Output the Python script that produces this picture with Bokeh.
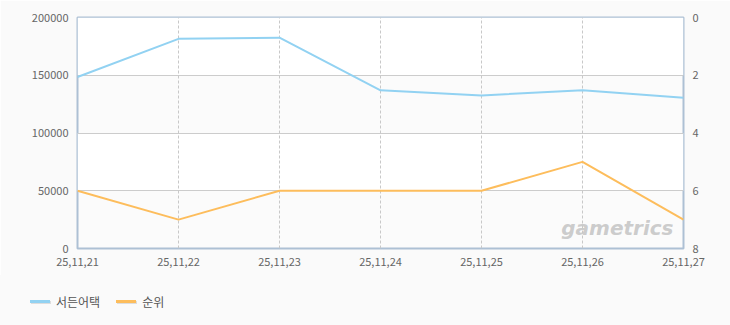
from bokeh.plotting import figure
from bokeh.models import (ColumnDataSource, Range1d, LinearAxis, FixedTicker, Label, Div)
from bokeh.layouts import column
from bokeh.embed import file_html
from bokeh.resources import INLINE

dates = ["25,11,21", "25,11,22", "25,11,23", "25,11,24", "25,11,25", "25,11,26", "25,11,27"]
users = [148500, 181500, 182500, 137000, 132500, 137000, 130500]
rank = [6, 7, 6, 6, 6, 5, 7]
left_ticks = [0, 50000, 100000, 150000, 200000]
right_ticks = [0, 2, 4, 6, 8]
series_names = ["서든어택", "순위"]
series_colors = ["#92d2f2", "#fdbd5c"]

xs = list(range(len(dates)))
src = ColumnDataSource(dict(x=xs, users=users, rank=rank))

FONT = "Noto Sans CJK KR"
p = figure(width=730, height=275, output_backend="svg", toolbar_location=None,
           x_range=Range1d(0, len(dates) - 1), y_range=Range1d(0, 200000),
           min_border_left=77, min_border_right=47, min_border_top=17, min_border_bottom=27,
           background_fill_color="#fbfbfb", border_fill_color="#fafafa",
           outline_line_color="#adc0d4", outline_line_width=2)

p.extra_y_ranges = {"rank": Range1d(8, 0)}

p.xaxis.ticker = FixedTicker(ticks=xs)
p.xaxis.major_label_overrides = {i: d for i, d in enumerate(dates)}
p.yaxis.ticker = FixedTicker(ticks=left_ticks)
p.yaxis.formatter.use_scientific = False

ax_r = LinearAxis(y_range_name="rank", ticker=FixedTicker(ticks=right_ticks))
p.add_layout(ax_r, "right")

for ax in [p.xaxis[0], p.yaxis[0], ax_r]:
    ax.axis_line_color = None
    ax.major_tick_line_color = None
    ax.minor_tick_line_color = None
    ax.major_label_text_font = FONT
    ax.major_label_text_font_size = "11px"
    ax.major_label_text_color = "#666666"
    ax.major_label_standoff = 3

p.ygrid.ticker = FixedTicker(ticks=left_ticks)
p.ygrid.grid_line_color = "#cccccc"
p.ygrid.band_fill_color = "#ffffff"
p.ygrid.band_fill_alpha = 1.0
p.ygrid.level = "image"
p.xgrid.ticker = FixedTicker(ticks=xs)
p.xgrid.grid_line_color = "#c8c8c8"
p.xgrid.grid_line_dash = "3 2"
p.xgrid.level = "underlay"

r1 = p.line("x", "users", source=src, line_color=series_colors[0], line_width=2)
r2 = p.line("x", "rank", source=src, y_range_name="rank", line_color=series_colors[1], line_width=2)

wm = Label(x=596, y=9, x_units="screen", y_units="screen", text="gametrics",
           text_font="DejaVu Sans", text_font_style="bold italic", text_font_size="20px",
           text_color="#c6c6c6", text_align="right", text_alpha=0.9)
p.add_layout(wm)

# legend strip below the chart
items = []
for name, color in zip(series_names, series_colors):
    items.append(
        f'<span style="display:inline-block;width:20px;height:3px;background:{color};'
        f'box-shadow:1px 1px 0 #dddddd;vertical-align:middle;margin-right:6px;"></span>'
        f'<span style="vertical-align:middle;margin-right:16px;">{name}</span>'
    )
html = ('<div style="padding:17px 0 0 30px;font-family:\'Noto Sans CJK KR\';'
        'font-size:12px;color:#555555;line-height:16px;white-space:nowrap;">'
        + "".join(items) + "</div>")
lg = Div(text=html, width=730, height=50, margin=0,
         styles={"background-color": "#fafafa"})

layout = column(p, lg, spacing=0)
open("out.html", "w").write(file_html(layout, INLINE))
